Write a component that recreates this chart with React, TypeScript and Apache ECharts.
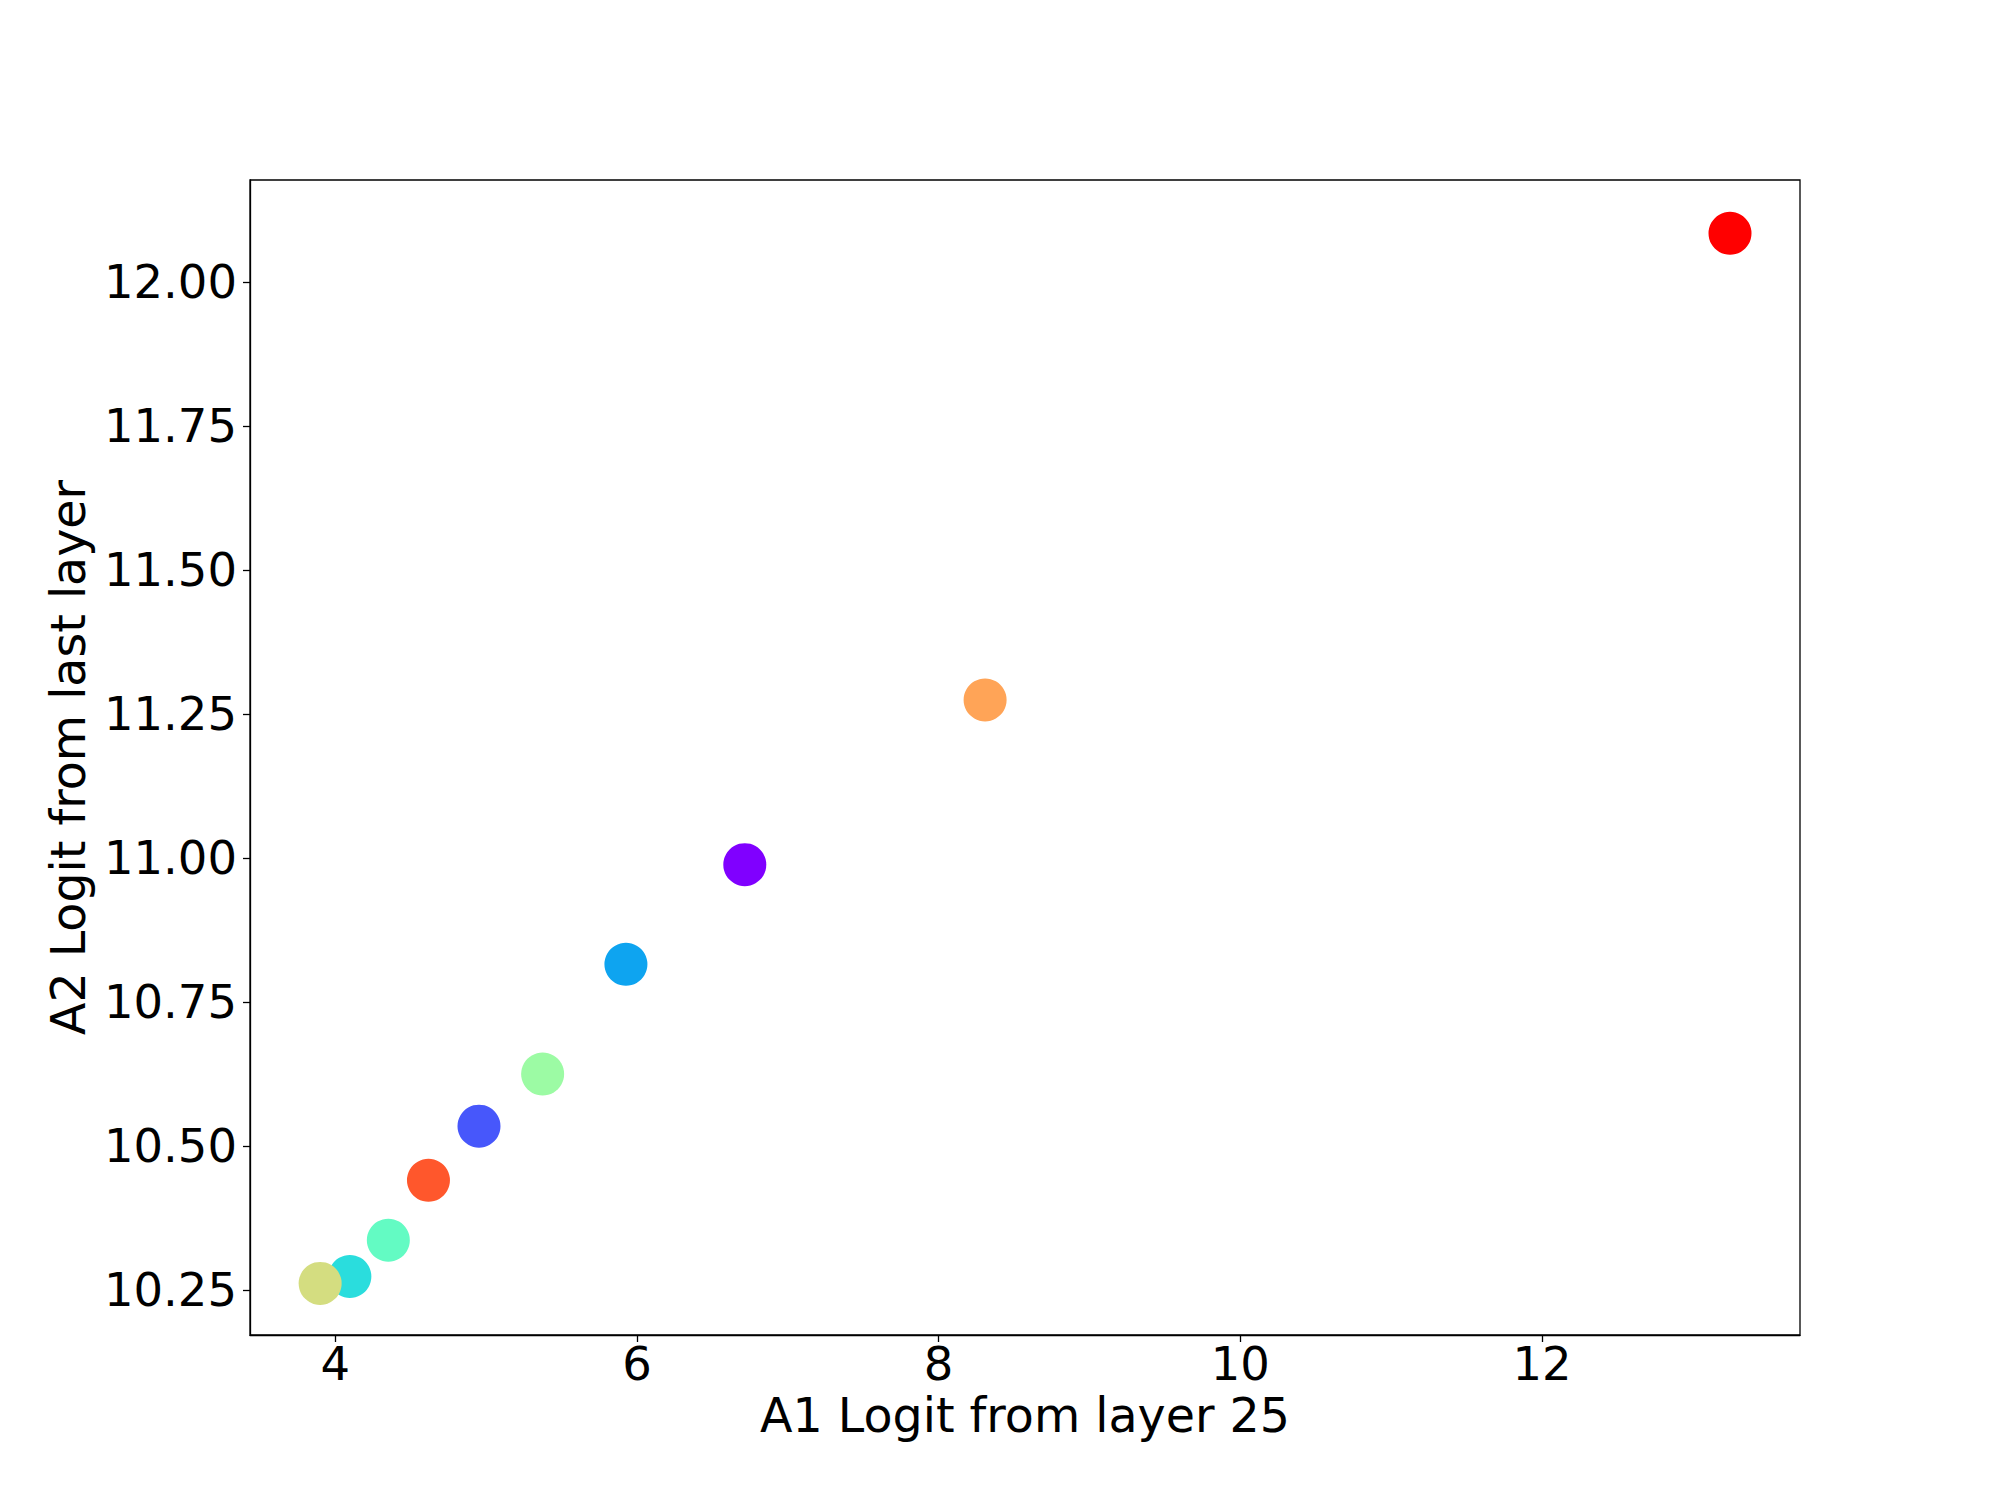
import React, { useEffect, useRef } from "react";
import * as echarts from "echarts";

// Point data (A1 logit from layer 25, A2 logit from last layer), in plotting order
const xValues = [6.715, 4.953, 5.927, 4.097, 4.352, 5.375, 3.9, 8.308, 4.618, 13.246];
const yValues = [10.989, 10.535, 10.816, 10.274, 10.337, 10.6255, 10.262, 11.275, 10.441, 12.085];
// rainbow colormap colours for each point
const pointColors = [
  "#8000ff",
  "#4757fb",
  "#0ea4f0",
  "#2adddd",
  "#63fbc3",
  "#9cfba4",
  "#d4dd80",
  "#ffa457",
  "#ff572c",
  "#ff0000",
];
const xTicks = [4, 6, 8, 10, 12];
const yTicks = [10.25, 10.5, 10.75, 11.0, 11.25, 11.5, 11.75, 12.0];

const xLabel = "A1 Logit from layer 25";
const yLabel = "A2 Logit from last layer";

export default function App() {
  const ref = useRef<HTMLDivElement>(null);
  useEffect(() => {
    if (!ref.current) return;
    const chart = echarts.init(ref.current, undefined, { renderer: "svg" });
    const font = "DejaVu Sans";
    const data = xValues.map((x, i) => ({
      value: [x, yValues[i]],
      itemStyle: { color: pointColors[i] },
    }));
    chart.setOption({
      animation: false,
      backgroundColor: "#ffffff",
      grid: {
        left: 250,
        top: 180,
        right: 200,
        bottom: 165,
        show: true,
        borderColor: "#000",
        borderWidth: 1.3,
        backgroundColor: "transparent",
      },
      xAxis: {
        type: "value",
        min: 3.435,
        max: 13.71,
        name: xLabel,
        nameLocation: "middle",
        nameGap: 49,
        nameTextStyle: { fontFamily: font, fontSize: 47.5, color: "#000" },
        splitLine: { show: false },
        axisLine: { show: true, onZero: false, lineStyle: { color: "#000", width: 1.3 } },
        axisTick: {
          show: true,
          inside: false,
          length: 7,
          customValues: xTicks,
          lineStyle: { color: "#000", width: 1.3 },
        },
        axisLabel: {
          customValues: xTicks,
          fontFamily: font,
          fontSize: 46.5,
          color: "#000",
          margin: 5,
          formatter: (v: number) => String(v),
        },
      },
      yAxis: {
        type: "value",
        min: 10.1724,
        max: 12.1776,
        name: yLabel,
        nameLocation: "middle",
        nameGap: 146,
        nameTextStyle: { fontFamily: font, fontSize: 47.5, color: "#000" },
        splitLine: { show: false },
        axisLine: { show: true, onZero: false, lineStyle: { color: "#000", width: 1.3 } },
        axisTick: {
          show: true,
          inside: false,
          length: 7,
          customValues: yTicks,
          lineStyle: { color: "#000", width: 1.3 },
        },
        axisLabel: {
          customValues: yTicks,
          fontFamily: font,
          fontSize: 46.5,
          color: "#000",
          margin: 13,
          formatter: (v: number) => v.toFixed(2),
        },
      },
      series: [
        {
          type: "scatter",
          symbol: "circle",
          symbolSize: 43,
          data,
          itemStyle: { opacity: 1 },
        },
      ],
    });
    return () => chart.dispose();
  }, []);
  return (
    <div
      ref={ref}
      style={{ position: "fixed", left: 0, top: 0, width: 2000, height: 1500 }}
    />
  );
}
